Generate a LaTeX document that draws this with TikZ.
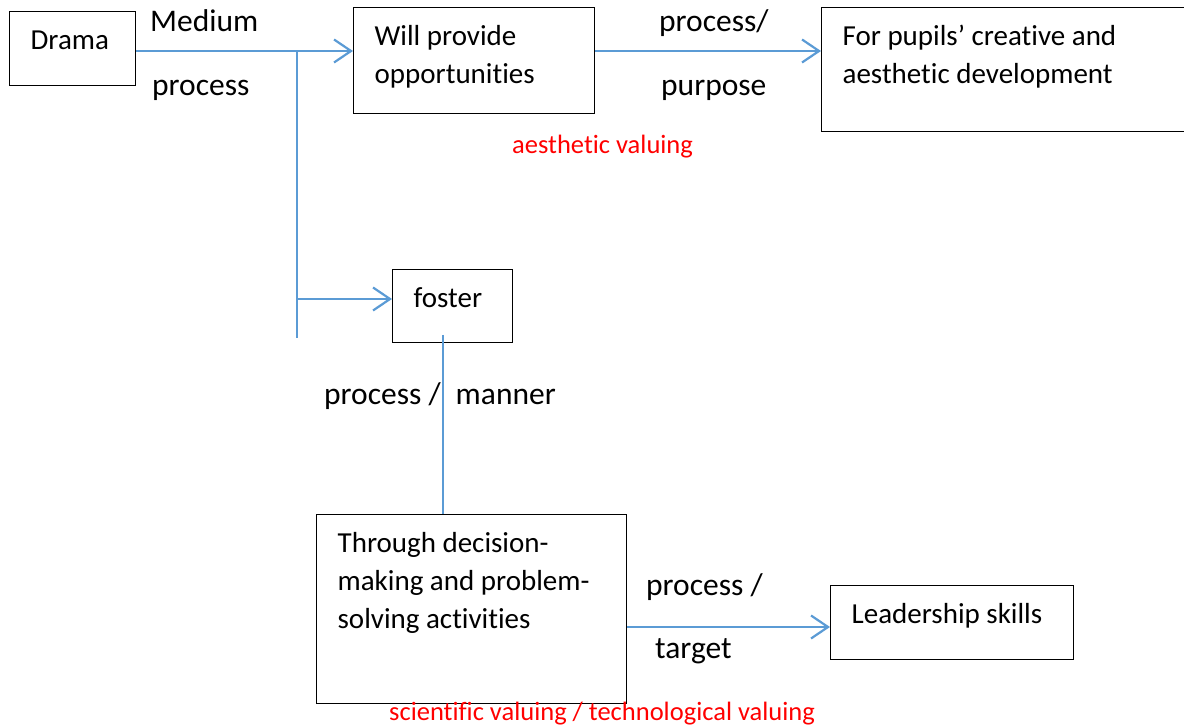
\documentclass[tikz,border=0pt]{standalone}
\usepackage{fontspec}
\setmainfont[Ligatures=NoCommon]{Carlito}
\usetikzlibrary{arrows.meta, positioning}
\definecolor{linkblue}{HTML}{5B9BD5}

\begin{document}
\begin{tikzpicture}[
    x=1pt, y=-1pt,
    font=\fontsize{29}{38}\selectfont,
    box/.style={rectangle, draw=black, line width=1.3pt, anchor=north west, align=flush left, inner xsep=21pt, inner ysep=0pt, text height=38pt},
    tag/.style={anchor=base west, inner sep=0pt, font=\fontsize{31.5}{38}\selectfont},
    note/.style={tag, text=red, font=\fontsize{26.5}{32}\selectfont},
    link/.style={draw=linkblue, line width=2.2pt},
    arrow/.style={link, -{Straight Barb[length=17pt, width=23pt]}}
]
\path[use as bounding box, clip] (0,0) rectangle (1184,727);

% boxes
\node[box, text width=84pt, text height=38pt, text depth=36pt] (drama) at (9,11) {Drama};
\node[box, text width=199pt, text depth=68pt] (will) at (353,7) {Will provide\\opportunities};
\node[box, text width=327pt, text depth=86pt] (pupils) at (821,7) {For pupils’ creative and\\aesthetic development};
\node[box, text width=78pt, text depth=35pt] (foster) at (392,269) {foster};
\node[box, text width=268pt, text depth=151pt] (through) at (316,514) {Through decision-\\making and problem-\\solving activities};
\node[box, text width=201pt, text depth=36pt] (leader) at (830,585) {Leadership skills};

% branch points
\coordinate (split) at (297,51);
\coordinate (branch) at (297,299);
\coordinate (stem) at (297,338);
\coordinate (drop) at (443,335);

% connectors
\draw[arrow] (drama.east |- split) -- (will.west |- split);
\draw[link] (split) -- (stem);
\draw[arrow] (branch) -- (foster.west |- branch);
\draw[arrow] (will.east |- split) -- (pupils.west |- split);
\draw[link] (drop) -- (drop |- through.north);
\draw[arrow] (through.east |- 0,627) -- (leader.west |- 0,627);

% labels
\node[tag] (medium) at (150,32) {Medium};
\node[tag] (medproc) at (152,96) {process};
\node[tag] (purproc) at (659,32) {process/};
\node[tag] (purpose) at (661,96) {purpose};
\node[tag] (manner) at (324,405) {process /\hspace{15pt}manner};
\node[tag] (tarproc) at (646,595) {process /};
\node[tag] (target) at (655,658) {target};
\node[note] (aesth) at (512,154) {aesthetic valuing};
\node[note] (scitech) at (389,720) {scientific valuing / technological valuing};

\end{tikzpicture}
\end{document}
